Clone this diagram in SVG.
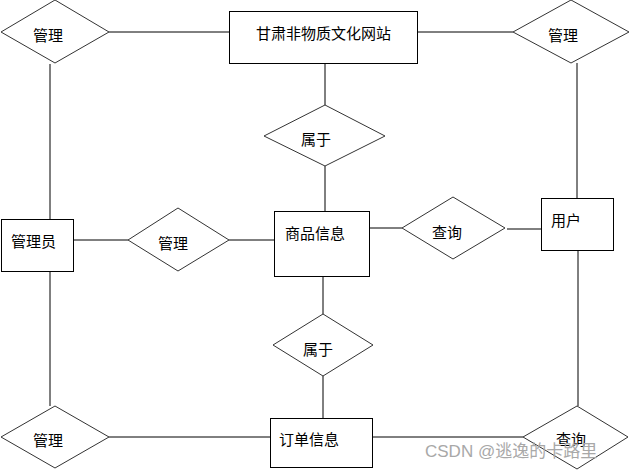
<svg xmlns="http://www.w3.org/2000/svg" width="631" height="470" viewBox="0 0 631 470">
<style>
.n{fill:#fff;stroke:#000;stroke-width:1}
.d{fill:#fff;stroke:#333;stroke-width:1}
.c{stroke:#000;stroke-width:1;fill:none}
.t{font-family:"Noto Sans CJK SC","Noto Sans",sans-serif;font-size:15px;fill:#000;dominant-baseline:central}
.w{font-family:"Liberation Sans","Noto Sans CJK SC",sans-serif;font-size:17px;fill:#a8a8a8;dominant-baseline:central}
</style>
<rect width="631" height="470" fill="#fff"/>
<g id="connectors">
<line class="c" x1="109" y1="32" x2="229" y2="32"/>
<line class="c" x1="417" y1="32" x2="513" y2="32"/>
<line class="c" x1="50" y1="64" x2="50" y2="219"/>
<line class="c" x1="50" y1="271" x2="50" y2="406"/>
<line class="c" x1="577" y1="63" x2="577" y2="198"/>
<line class="c" x1="578" y1="250" x2="578" y2="406"/>
<line class="c" x1="325" y1="63" x2="325" y2="105"/>
<line class="c" x1="325" y1="166" x2="325" y2="211"/>
<line class="c" x1="323" y1="276" x2="323" y2="314"/>
<line class="c" x1="323" y1="376" x2="323" y2="418"/>
<line class="c" x1="73" y1="240" x2="128" y2="240"/>
<line class="c" x1="229" y1="240" x2="274" y2="240"/>
<line class="c" x1="366" y1="228" x2="402" y2="228"/>
<line class="c" x1="507" y1="229" x2="541" y2="229"/>
<line class="c" x1="109" y1="437" x2="270" y2="437"/>
<line class="c" x1="372" y1="437" x2="523" y2="437"/>
</g>
<g id="site"><rect class="n" x="229.5" y="11.5" width="188" height="52"/><text class="t" x="256" y="32">甘肃非物质文化网站</text></g>
<g id="manage1"><polygon class="d" points="1,32 55,0 109,32 55,63"/><text class="t" x="48" y="34" text-anchor="middle">管理</text></g>
<g id="manage2"><polygon class="d" points="513,32 571,0 629,32 571,63"/><text class="t" x="563" y="34" text-anchor="middle">管理</text></g>
<g id="admin"><rect class="n" x="1.5" y="219.5" width="72" height="52"/><text class="t" x="11" y="240">管理员</text></g>
<g id="manage3"><polygon class="d" points="128,240 178,208 229,240 178,271"/><text class="t" x="173" y="242" text-anchor="middle">管理</text></g>
<g id="product"><rect class="n" x="274.5" y="211.5" width="95" height="65"/><text class="t" x="285" y="232">商品信息</text></g>
<g id="belong1"><polygon class="d" points="264,136 325,105 385,136 325,166"/><text class="t" x="316" y="138" text-anchor="middle">属于</text></g>
<g id="query1"><polygon class="d" points="402,228 453,197 505,228 453,259"/><text class="t" x="447" y="231" text-anchor="middle">查询</text></g>
<g id="user"><rect class="n" x="541.5" y="198.5" width="72" height="52"/><text class="t" x="551" y="219">用户</text></g>
<g id="belong2"><polygon class="d" points="273,345 323,314 373,345 323,376"/><text class="t" x="318" y="348" text-anchor="middle">属于</text></g>
<g id="manage4"><polygon class="d" points="1,437 55,406 109,437 55,468"/><text class="t" x="48" y="439" text-anchor="middle">管理</text></g>
<g id="order"><rect class="n" x="270.5" y="418.5" width="102" height="49"/><text class="t" x="279" y="438">订单信息</text></g>
<g id="query2"><polygon class="d" points="523,437 577,406 628,437 577,469"/><text class="t" x="571" y="438" text-anchor="middle">查询</text></g>
<text class="w" x="425" y="451">CSDN @逃逸的卡路里</text>
</svg>
